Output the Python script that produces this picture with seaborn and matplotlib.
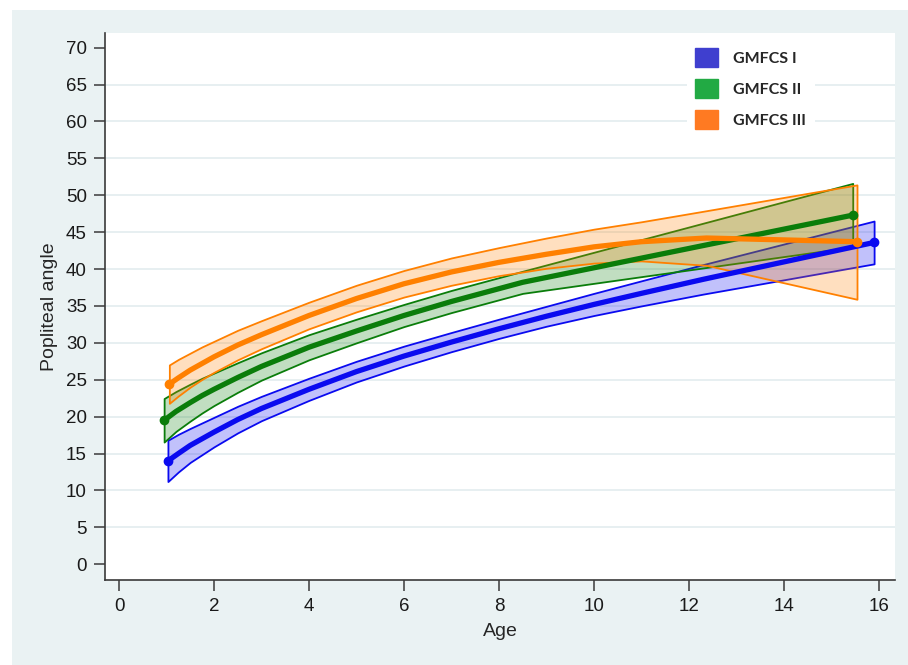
import matplotlib
matplotlib.use("Agg")
import matplotlib.pyplot as plt
from matplotlib.patches import Patch, Rectangle
import seaborn as sns
import pandas as pd

# --- data (age in years, popliteal angle in degrees) ---
age_1 = [1.03, 1.25, 1.5, 1.75, 2, 2.5, 3, 4, 5, 6, 7, 8, 9, 10, 11, 12.3, 15.9]
mean_1 = [14.0, 15.0, 16.1, 17.0, 17.9, 19.6, 21.1, 23.7, 26.1, 28.2, 30.1, 31.9, 33.6, 35.2, 36.7, 38.6, 43.6]
upper_1 = [16.8, 17.6, 18.4, 19.15, 19.9, 21.4, 22.75, 25.2, 27.5, 29.55, 31.4, 33.2, 34.95, 36.7, 38.4, 40.6, 46.5]
lower_1 = [11.2, 12.5, 13.8, 14.85, 15.9, 17.8, 19.45, 22.2, 24.7, 26.85, 28.8, 30.6, 32.25, 33.7, 35.0, 36.6, 40.7]

age_2 = [0.95, 1.2, 1.5, 1.75, 2, 2.5, 3, 4, 5, 6, 7, 8.5, 15.45]
mean_2 = [19.5, 20.7, 21.9, 22.85, 23.7, 25.3, 26.8, 29.4, 31.6, 33.7, 35.6, 38.2, 47.3]
upper_2 = [22.45, 23.4, 24.4, 25.2, 25.9, 27.3, 28.65, 31.1, 33.2, 35.2, 37.1, 39.7, 51.6]
lower_2 = [16.55, 18.0, 19.4, 20.5, 21.5, 23.3, 24.95, 27.7, 30.0, 32.2, 34.1, 36.7, 43.0]

age_3 = [1.06, 1.25, 1.5, 1.75, 2, 2.5, 3, 4, 5, 6, 7, 8, 9, 10, 11, 12.37, 15.54]
mean_3 = [24.4, 25.25, 26.3, 27.2, 28.1, 29.7, 31.1, 33.7, 36.0, 38.0, 39.6, 40.9, 42.0, 43.0, 43.7, 44.2, 43.7]
upper_3 = [27.0, 27.75, 28.6, 29.45, 30.2, 31.7, 33.0, 35.5, 37.8, 39.8, 41.5, 42.9, 44.2, 45.4, 46.4, 47.9, 51.4]
lower_3 = [21.8, 22.8, 24.0, 25.05, 26.0, 27.7, 29.2, 31.9, 34.2, 36.2, 37.8, 39.1, 40.1, 40.8, 41.1, 40.5, 35.9]

groups = ["GMFCS I", "GMFCS II", "GMFCS III"]
line_colors = ["#0a0af0", "#0a7d0a", "#ff8000"]
legend_colors = ["#3f3fcf", "#22aa44", "#ff7a22"]
x_ticks = list(range(0, 17, 2))
y_ticks = list(range(0, 71, 5))

sns.set_style("white")
plt.rcParams['font.family'] = ['Liberation Sans', 'DejaVu Sans']

fig = plt.figure(figsize=(9.08, 6.65), dpi=100, facecolor="white")
# Stata-like graph region
fig.patches.append(Rectangle((12 / 908, 0), 1, 1 - 10 / 665, transform=fig.transFigure,
                             facecolor="#eaf2f3", edgecolor="none", zorder=-10))
ax = fig.add_axes([105 / 908, 1 - 580 / 665, 790 / 908, 547 / 665])
ax.set_facecolor("white")

series = [(age_1, mean_1, upper_1, lower_1),
          (age_2, mean_2, upper_2, lower_2),
          (age_3, mean_3, upper_3, lower_3)]

for (a, m, u, l), name, col in zip(series, groups, line_colors):
    rgba = matplotlib.colors.to_rgba(col, 0.25)
    ax.fill_between(a, l, u, facecolor=rgba, edgecolor=col, linewidth=1.3)
    df = pd.DataFrame({"Age": a, "angle": m})
    sns.lineplot(data=df, x="Age", y="angle", ax=ax, color=col, linewidth=3.8,
                 estimator=None, sort=False, solid_capstyle="round", legend=False)
    ax.plot([a[0], a[-1]], [m[0], m[-1]], "o", color=col, markersize=6, linestyle="none")

ax.set_xlim(-0.295, 16.34)
ax.set_ylim(-2.14, 71.98)
ax.set_xticks(x_ticks)
ax.set_yticks(y_ticks)
for v in y_ticks[1:-1]:
    ax.axhline(v, color="#e3ecef", linewidth=1.2, zorder=0)

for side in ["top", "right"]:
    ax.spines[side].set_visible(False)
for side in ["left", "bottom"]:
    ax.spines[side].set_color("#3a3a3a")
    ax.spines[side].set_linewidth(1.2)
ax.tick_params(axis="both", direction="out", length=8, width=1.1, color="#3a3a3a",
               labelsize=13.5, labelcolor="#1a1a1a", pad=5, left=True, bottom=True)
ax.set_xlabel("Age", fontsize=14, labelpad=6)
ax.set_ylabel("Popliteal angle", fontsize=14, labelpad=6)

handles = [Patch(facecolor=c, edgecolor=c) for c in legend_colors]
leg = ax.legend(handles, groups, loc="upper left", bbox_to_anchor=(0.726, 1.003),
                frameon=True, facecolor="white", edgecolor="none", framealpha=1,
                handlelength=1.45, handleheight=1.45, handletextpad=0.9,
                labelspacing=0.75, borderpad=0.55,
                prop={"family": "Lato", "weight": "bold", "size": 11.5})

fig.savefig("out.png", dpi=100)
